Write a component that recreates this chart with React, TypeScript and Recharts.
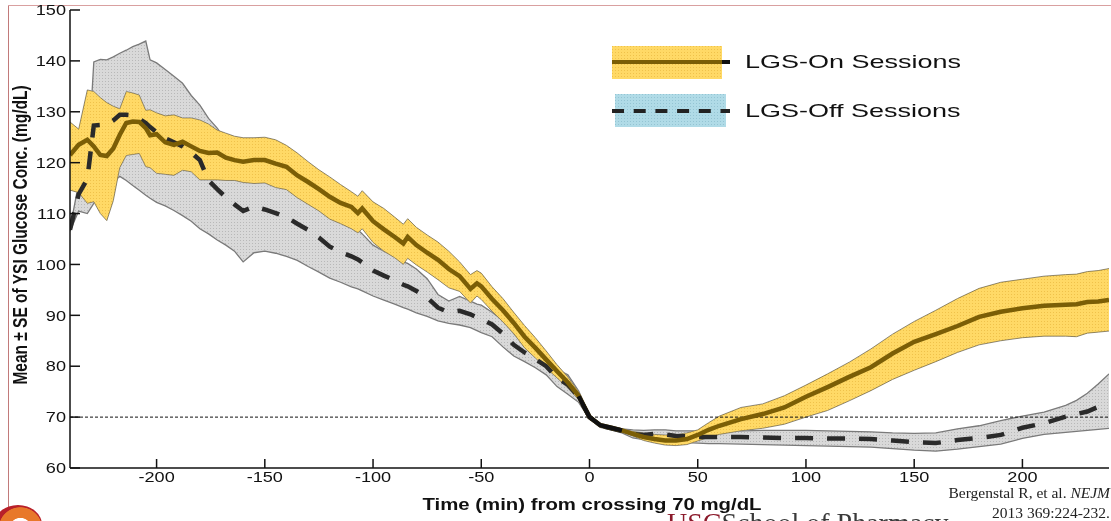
import React from 'react'
import { ComposedChart, Area, Line, XAxis, YAxis, ReferenceLine, Legend } from 'recharts'

const TIME = [
  -240, -236, -232, -229, -226, -223, -220, -217, -214, -211, -208, -205, -203, -200, -196, -192, -188, -184, -180, -176,
  -172, -168, -164, -160, -155, -150, -145, -140, -135, -130, -125, -120, -115, -110, -107, -105, -100, -95, -90, -86,
  -84, -80, -75, -70, -65, -60, -55, -52, -50, -45, -40, -35, -30, -25, -20, -15, -10, -5, 0, 5,
  10, 15, 20, 25, 30, 35, 40, 45, 50, 55, 60, 70, 80, 90, 100, 110, 120, 130, 140, 150,
  160, 170, 180, 190, 200, 210, 220, 225, 230, 235, 240,
]

const ON_MEAN = [
  121.5, 123.5, 124.5, 123.2, 121.5, 121.3, 122.8, 125.5, 127.8, 128.1, 128, 126.8, 125.4, 125.6, 124, 123.5, 124.1, 123.2, 122.3, 121.9,
  122, 121, 120.5, 120.2, 120.5, 120.5, 119.8, 119.2, 117.5, 116.2, 114.8, 113.3, 112.1, 111.3, 110.1, 111, 108.5, 106.9, 105.4, 104.1,
  105.4, 103.8, 102.3, 100.9, 99.1, 97.7, 95.2, 96.3, 95.7, 93.2, 91, 88.5, 85.8, 83.6, 81.3, 79, 76.8, 74.2, 70, 68.4,
  67.9, 67.4, 66.7, 66.1, 65.7, 65.4, 65.4, 65.7, 66.5, 67.5, 68.3, 69.6, 70.6, 71.9, 74, 75.9, 77.9, 79.8, 82.5, 84.8,
  86.3, 87.9, 89.7, 90.7, 91.4, 91.9, 92.1, 92.2, 92.6, 92.7, 93,
]

const ON_HIGH = [
  128, 126.6, 134.3, 134, 132.8, 131.8, 131.1, 130.6, 134, 133.7, 133.3, 130.3, 130.4, 129.8, 129.2, 129.4, 128.8, 128.8, 128.4, 127.6,
  126.4, 125.8, 125.2, 124.9, 124.9, 125, 124.5, 123.4, 121.9, 120.2, 118.6, 117.2, 115.7, 114.3, 113.4, 114.5, 112.3, 111, 109.3, 107.9,
  109, 107.3, 105.8, 104.4, 102.6, 100.5, 98, 98.8, 98.3, 95.6, 93.3, 90.6, 88, 85.6, 83, 80.3, 77.9, 75, 70.3, 68.6,
  68.1, 67.7, 67.2, 66.9, 66.6, 66.5, 66.6, 66.9, 67.5, 68.9, 70.2, 71.9, 72.6, 74.2, 76.3, 78.5, 80.8, 83.4, 86.3, 88.8,
  91, 93.3, 95.3, 96.5, 97.1, 97.7, 98, 98.1, 98.6, 98.8, 99.2,
]

const ON_LOW = [
  114.6, 114.1, 112, 112.3, 110, 108.6, 112.5, 119, 121.4, 121.6, 121.8, 119.2, 119, 117.9, 117.7, 117.5, 118.5, 118.2, 116.6, 116.6,
  116.6, 116.5, 116.5, 116.1, 115.9, 116, 115.1, 114.7, 113.1, 111.8, 110.5, 108.9, 108, 107, 106.2, 107, 104.3, 102.6, 101.3, 100,
  101.2, 99.9, 98.5, 97, 95.4, 94.7, 92.4, 93.8, 93.1, 90.8, 88.7, 86.4, 83.6, 81.6, 79.6, 77.7, 75.7, 73.4, 69.7, 68.2,
  67.7, 67.1, 66.3, 65.4, 64.9, 64.5, 64.4, 64.6, 65.3, 66, 66.6, 67.3, 67.8, 68.6, 70, 71.3, 73.2, 75.2, 77.4, 79.2,
  80.9, 82.7, 84.2, 85, 85.6, 85.9, 85.9, 85.8, 86.5, 86.7, 86.9,
]

const OFF_MEAN = [
  106.8, 113.8, 116.8, 127.3, 127.4, 127.5, 128.3, 129.4, 129.4, 129.3, 128.6, 127.8, 127, 126, 124.8, 124, 123.2, 122, 120.5, 116.5,
  114.8, 113.2, 111.8, 110.5, 111.4, 110.8, 110.1, 109.3, 108, 106.8, 105.3, 103.5, 102.4, 101.6, 101, 100.4, 98.8, 97.8, 96.9, 96,
  95.7, 94.8, 93.5, 91.5, 90.6, 90.9, 90.2, 89.6, 89.3, 88.2, 86.4, 84.2, 82.7, 81.4, 80, 77.7, 76.4, 74, 70, 68.3,
  67.8, 67.3, 66.7, 66.5, 66.7, 66.6, 66.3, 66.2, 66.1, 66.1, 66.1, 66.1, 66, 65.9, 65.9, 65.8, 65.8, 65.7, 65.4, 65.1,
  64.9, 65.5, 65.9, 66.5, 67.9, 68.8, 70.1, 70.6, 71.1, 72, 72.9,
]

const OFF_HIGH = [
  107, 116, 118, 139.8, 140.3, 140.2, 140.8, 141.5, 142.1, 142.8, 143.3, 143.9, 140.2, 139.6, 138.3, 137, 135.6, 133.2, 131.3, 128.7,
  126.8, 124.5, 122.5, 121, 120, 119, 118, 117, 115.3, 113.8, 112, 109.8, 108.3, 107.5, 106.8, 106, 103.8, 102.6, 101.6, 100.5,
  100.2, 99.1, 97.2, 94.1, 92.8, 93.7, 92.8, 92.2, 92, 90.6, 89, 86.4, 84.2, 83.1, 81.7, 79.4, 78.3, 75.1, 70.4, 68.6,
  68.1, 67.7, 67.5, 67.4, 67.5, 67.5, 67.3, 67.3, 67.3, 67.3, 67.3, 67.3, 67.4, 67.4, 67.4, 67.3, 67.2, 67.1, 66.9, 66.8,
  66.9, 67.7, 68.3, 69.3, 70.2, 71, 72.3, 73.3, 74.7, 76.5, 78.5,
]

const OFF_LOW = [
  106.5, 110.5, 110, 112, 113.5, 115, 116.3, 117.3, 116.5, 115.5, 114.6, 113.6, 113, 112.2, 111.5, 110.6, 109.6, 108.5, 107, 106,
  104.8, 103.8, 102.6, 100.5, 102.3, 102.6, 102.2, 101.6, 100.8, 99.6, 98.5, 97.3, 96.5, 95.6, 95.2, 94.8, 93.8, 93, 92.2, 91.5,
  91.2, 90.5, 89.8, 88.9, 88.4, 88.1, 87.6, 87, 86.6, 85.8, 83.8, 82, 80.9, 79.7, 78.3, 76, 74.5, 72.9, 69.6, 68,
  67.5, 66.9, 65.9, 65.6, 65.6, 65.4, 65.2, 65, 64.9, 64.8, 64.8, 64.7, 64.6, 64.5, 64.4, 64.3, 64.2, 64.1, 63.8, 63.5,
  63.3, 63.7, 64.2, 64.7, 65.8, 66.6, 67, 67.2, 67.4, 67.6, 67.8,
]

// where both sessions overlap and the curve reads as one black line
const MERGED_TIME = [-5, 0, 5, 10, 15]
const MERGED_MEAN = [74.1, 70, 68.4, 67.9, 67.4]

const X_TICKS = [-200, -150, -100, -50, 0, 50, 100, 150, 200]
const Y_TICKS = [60, 70, 80, 90, 100, 110, 120, 130, 140, 150]

const data = TIME.map((t, i) => {
  const m = MERGED_TIME.indexOf(t)
  return {
    t,
    onMean: ON_MEAN[i],
    onBand: [ON_LOW[i], ON_HIGH[i]],
    offMean: OFF_MEAN[i],
    offBand: [OFF_LOW[i], OFF_HIGH[i]],
    merged: m >= 0 ? MERGED_MEAN[m] : null,
  }
})

const SANS = '"Liberation Sans", Arial, Helvetica, sans-serif'
const SERIF = '"Liberation Serif", "Times New Roman", serif'
const INK = '#111'
const SX = 1.25

const LeftTick = ({ x, y, payload }: any) => (
  <g>
    <line x1={x} x2={x + 10} y1={y} y2={y} stroke={INK} strokeWidth={1.5} />
    <text transform={`translate(${x - 4},${y}) scale(${SX},1)`} textAnchor="end" dy="0.36em" fontSize={14.5} fontFamily={SANS} fill={INK}>
      {payload.value}
    </text>
  </g>
)

const RightTick = ({ x, y }: any) => (
  <line x1={x} x2={x - 10} y1={y} y2={y} stroke={INK} strokeWidth={1.5} />
)

const BottomTick = ({ x, y, payload }: any) => (
  <g>
    <line x1={x} x2={x} y1={y} y2={y - 9} stroke={INK} strokeWidth={1.5} />
    <text transform={`translate(${x},${y + 9}) scale(${SX},1)`} textAnchor="middle" dy="0.36em" fontSize={14.5} fontFamily={SANS} fill={INK}>
      {payload.value}
    </text>
  </g>
)

const TopTick = ({ x, y }: any) => (
  <line x1={x} x2={x} y1={y} y2={y + 9} stroke={INK} strokeWidth={1.5} />
)

const XLabel = () => (
  <text transform={`translate(592,504) scale(${SX},1)`} textAnchor="middle" dy="0.36em" fontSize={16.3} fontWeight="bold" fontFamily={SANS} fill={INK}>
    Time (min) from crossing 70 mg/dL
  </text>
)

const YLabel = () => (
  <text transform="translate(20,235) rotate(-90) scale(1,1.3)" textAnchor="middle" dy="0.36em" fontSize={15.5} fontWeight="bold" fontFamily={SANS} fill={INK}>
    Mean ± SE of YSI Glucose Conc. (mg/dL)
  </text>
)

const LegendBox = () => (
  <svg width={420} height={100} style={{ display: 'block' }}>
    <rect x={12} y={6} width={110} height={33} fill="url(#yellowDots)" />
    <line x1={12} x2={122} y1={22} y2={22} stroke="#7b5e06" strokeWidth={4} />
    <line x1={122} x2={130} y1={22} y2={22} stroke={INK} strokeWidth={4} />
    <text transform={`translate(145,22) scale(1.5,1)`} dy="0.36em" fontSize={18} fontFamily={SANS} fill={INK}>LGS-On Sessions</text>
    <rect x={15} y={54} width={111} height={33} fill="url(#blueDots)" />
    <line x1={12} x2={130} y1={71} y2={71} stroke="#222" strokeWidth={4} strokeDasharray="12 9.7" />
    <text transform={`translate(145,71) scale(1.5,1)`} dy="0.36em" fontSize={18} fontFamily={SANS} fill={INK}>LGS-Off Sessions</text>
  </svg>
)

export default function App() {
  return (
    <div style={{ position: 'absolute', left: 0, top: 0, width: 1111, height: 521, overflow: 'hidden', background: '#fff' }}>
      <style>{`.on-band path { mix-blend-mode: multiply; }`}</style>
      <div style={{ position: 'absolute', left: 8, top: 5, width: 1, height: 510, background: '#c27a7a' }} />
      <div style={{ position: 'absolute', left: 8, top: 5, width: 1103, height: 1, background: '#d9a0a0' }} />
      <ComposedChart width={1111} height={521} data={data} margin={{ top: 10, right: 2, bottom: 0, left: 0 }}>
        <defs>
          <pattern id="yellowDots" width={3} height={3} patternUnits="userSpaceOnUse">
            <rect width={3} height={3} fill="#ffd966" />
            <rect width={1} height={1} fill="#efc14a" />
          </pattern>
          <pattern id="grayDots" width={3} height={3} patternUnits="userSpaceOnUse">
            <rect width={3} height={3} fill="#d9d9d9" />
            <rect width={1} height={1} fill="#b8b8b8" />
          </pattern>
          <pattern id="blueDots" width={3} height={3} patternUnits="userSpaceOnUse">
            <rect width={3} height={3} fill="#b0dbe7" />
            <rect width={1} height={1} fill="#94c4d3" />
          </pattern>
        </defs>
        <XAxis
          xAxisId="b"
          dataKey="t"
          type="number"
          domain={[-240, 240]}
          ticks={X_TICKS}
          interval={0}
          allowDataOverflow
          tickLine={false}
          tickSize={0}
          tickMargin={0}
          tick={<BottomTick />}
          axisLine={{ stroke: INK, strokeWidth: 1.5 }}
          height={53}
          label={{ content: <XLabel /> }}
        />
        <XAxis
          xAxisId="top"
          orientation="top"
          dataKey="t"
          type="number"
          domain={[-240, 240]}
          ticks={X_TICKS}
          interval={0}
          allowDataOverflow
          tickLine={false}
          tickSize={0}
          tickMargin={0}
          tick={<TopTick />}
          axisLine={{ stroke: INK, strokeWidth: 1.5 }}
          height={0}
        />
        <YAxis
          yAxisId="l"
          type="number"
          domain={[60, 150]}
          ticks={Y_TICKS}
          interval={0}
          allowDataOverflow
          tickLine={false}
          tickSize={0}
          tickMargin={0}
          tick={<LeftTick />}
          axisLine={{ stroke: INK, strokeWidth: 1.5 }}
          width={70}
          label={{ content: <YLabel /> }}
        />
        <YAxis
          yAxisId="r"
          orientation="right"
          type="number"
          domain={[60, 150]}
          ticks={Y_TICKS}
          interval={0}
          allowDataOverflow
          tickLine={false}
          tickSize={0}
          tickMargin={0}
          tick={<RightTick />}
          axisLine={{ stroke: INK, strokeWidth: 1.5 }}
          width={0}
        />
        <Area
          xAxisId="b"
          yAxisId="l"
          dataKey="offBand"
          type="linear"
          fill="url(#grayDots)"
          fillOpacity={1}
          stroke="#7a7a7a"
          strokeWidth={1.3}
          dot={false}
          activeDot={false}
          isAnimationActive={false}
        />
        <Area
          xAxisId="b"
          yAxisId="l"
          dataKey="onBand"
          type="linear"
          className="on-band"
          fill="url(#yellowDots)"
          fillOpacity={1}
          stroke="#8f8f8f"
          strokeWidth={1}
          dot={false}
          activeDot={false}
          isAnimationActive={false}
        />
        <ReferenceLine xAxisId="b" yAxisId="l" y={70} stroke={INK} strokeWidth={1} strokeDasharray="3 2" />
        <Line
          xAxisId="b"
          yAxisId="l"
          dataKey="offMean"
          type="linear"
          stroke="#2a2a2a"
          strokeWidth={4.5}
          strokeDasharray="18 14"
          dot={false}
          activeDot={false}
          isAnimationActive={false}
        />
        <Line
          xAxisId="b"
          yAxisId="l"
          dataKey="onMean"
          type="linear"
          stroke="#7b5e06"
          strokeWidth={4.5}
          dot={false}
          activeDot={false}
          isAnimationActive={false}
        />
        <Line
          xAxisId="b"
          yAxisId="l"
          dataKey="merged"
          type="linear"
          stroke={INK}
          strokeWidth={4.5}
          dot={false}
          activeDot={false}
          connectNulls={false}
          isAnimationActive={false}
        />
        <Legend
          layout="vertical"
          align="center"
          verticalAlign="middle"
          content={<LegendBox />}
          wrapperStyle={{ position: 'absolute', left: 600, top: 40, width: 420, height: 100 }}
        />
      </ComposedChart>
      <div style={{ position: 'absolute', right: 1, top: 483, fontFamily: SERIF, fontSize: 15.5, lineHeight: '20px', color: '#222', textAlign: 'right' }}>
        Bergenstal R, et al. <i>NEJM</i>
        <br />
        2013 369:224-232.
      </div>
      <div style={{ position: 'absolute', left: 667, top: 509, fontFamily: SERIF, fontSize: 28, lineHeight: '28px', whiteSpace: 'nowrap' }}>
        <span style={{ color: '#8b1a2b' }}>USC</span>
        <span style={{ color: '#3a3a3a' }}>School of Pharmacy</span>
      </div>
      <div style={{ position: 'absolute', left: -6, top: 505, width: 48, height: 40, borderRadius: '50%', background: 'radial-gradient(circle at 55% 60%, #fff 0 30%, #e8782a 32% 60%, #b8202a 62%)' }} />
    </div>
  )
}
